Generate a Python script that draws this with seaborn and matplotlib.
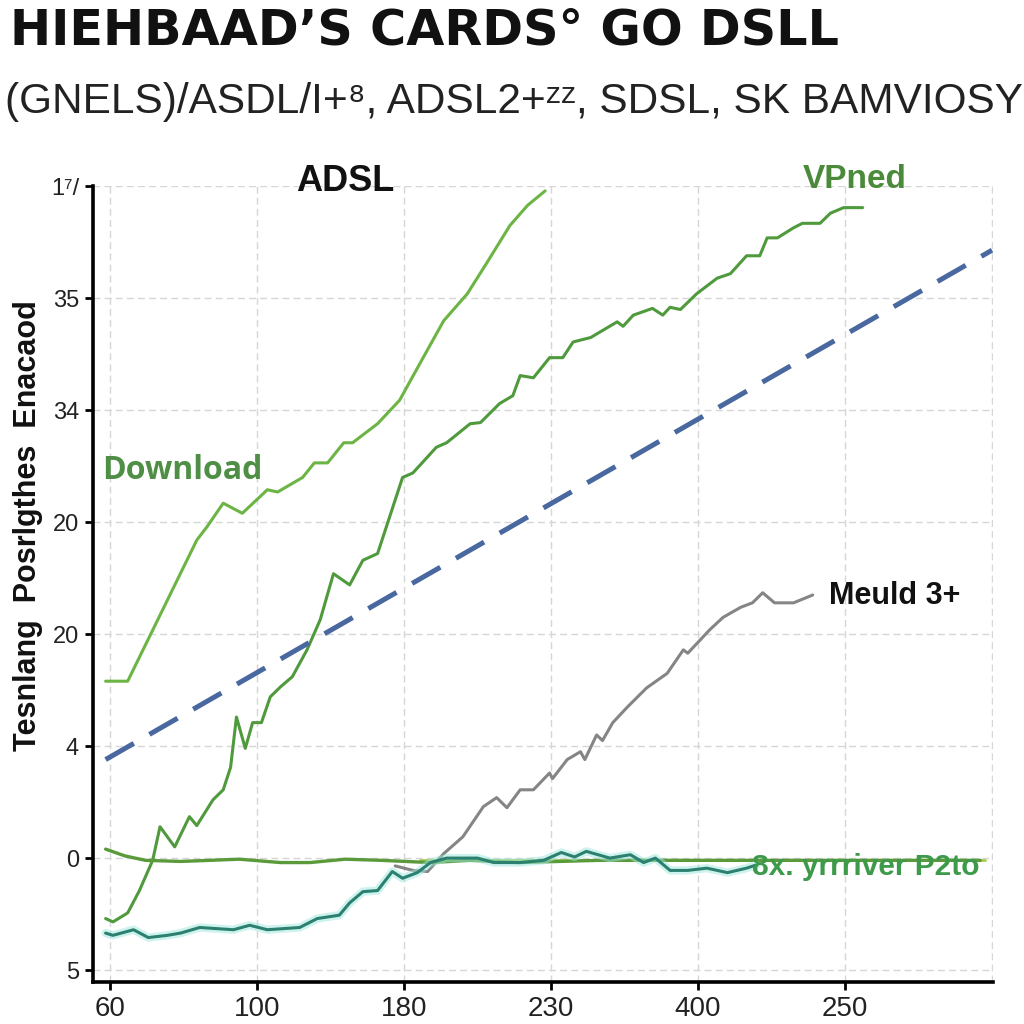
import matplotlib
matplotlib.use("Agg")
import matplotlib.pyplot as plt
import seaborn as sns

# tick labels as printed on the chart (positions are 0..n-1)
x_labels = ["60", "100", "180", "230", "400", "250"]
y_labels = ["5", "0", "4", "20", "20", "34", "35", "1⁷/"]

# upper green curve (ends near "ADSL")
adsl_x = [-0.03, 0.12, 0.59, 0.66, 0.77, 0.90, 1.07, 1.14, 1.31, 1.39, 1.48, 1.59,
          1.65, 1.82, 1.97, 2.13, 2.27, 2.43, 2.56, 2.72, 2.84, 2.96]
adsl_y = [2.58, 2.58, 3.84, 3.96, 4.17, 4.08, 4.29, 4.27, 4.40, 4.53, 4.53, 4.71,
          4.71, 4.88, 5.09, 5.47, 5.80, 6.04, 6.31, 6.65, 6.83, 6.96]

# middle green curve (ends near "VPned")
vp_x = [-0.03, 0.02, 0.12, 0.20, 0.29, 0.34, 0.44, 0.54, 0.59, 0.70, 0.77, 0.82,
        0.86, 0.92, 0.97, 1.03, 1.09, 1.16, 1.24, 1.34, 1.43, 1.52, 1.63, 1.72,
        1.82, 1.99, 2.06, 2.22, 2.29, 2.45, 2.52, 2.65, 2.74, 2.79, 2.88, 2.99,
        3.08, 3.15, 3.27, 3.45, 3.49, 3.56, 3.69, 3.76, 3.81, 3.88, 3.99, 4.13,
        4.22, 4.33, 4.42, 4.47, 4.54, 4.65, 4.71, 4.83, 4.90, 4.99, 5.12]
vp_y = [0.46, 0.43, 0.51, 0.71, 0.98, 1.28, 1.10, 1.37, 1.29, 1.52, 1.61, 1.81,
        2.26, 1.98, 2.21, 2.21, 2.44, 2.53, 2.62, 2.86, 3.13, 3.54, 3.44, 3.66,
        3.72, 4.40, 4.44, 4.67, 4.71, 4.88, 4.89, 5.06, 5.13, 5.31, 5.29, 5.47,
        5.47, 5.61, 5.65, 5.79, 5.75, 5.85, 5.91, 5.85, 5.92, 5.90, 6.04, 6.18,
        6.22, 6.38, 6.38, 6.54, 6.54, 6.63, 6.67, 6.67, 6.76, 6.81, 6.81]

# dashed blue trend
trend_x = [-0.03, 6.0]
trend_y = [1.88, 6.43]

# grey curve ("Meuld 3+")
grey_x = [1.94, 2.06, 2.16, 2.27, 2.40, 2.54, 2.63, 2.70, 2.79, 2.88, 2.99, 3.01,
          3.11, 3.20, 3.23, 3.31, 3.35, 3.42, 3.52, 3.65, 3.79, 3.90, 3.93, 4.08,
          4.17, 4.29, 4.37, 4.44, 4.52, 4.65, 4.78]
grey_y = [0.93, 0.89, 0.88, 1.04, 1.19, 1.46, 1.54, 1.45, 1.61, 1.61, 1.76, 1.71,
          1.88, 1.95, 1.88, 2.10, 2.05, 2.21, 2.35, 2.52, 2.65, 2.86, 2.83, 3.04,
          3.15, 3.24, 3.28, 3.37, 3.28, 3.28, 3.35]

# green line hugging zero
base_x = [-0.03, 0.10, 0.24, 0.48, 0.88, 1.16, 1.36, 1.60, 1.84, 2.18, 2.45, 2.78,
          3.33, 4.01, 4.69, 5.92]
base_y = [1.08, 1.02, 0.98, 0.97, 0.99, 0.96, 0.96, 0.99, 0.98, 0.96, 0.98, 0.96,
          0.98, 0.98, 0.98, 0.98]

# flat yellow-green reference
flat_x = [2.11, 5.95]
flat_y = [0.98, 0.98]

# teal curve
teal_x = [-0.03, 0.02, 0.16, 0.26, 0.39, 0.48, 0.61, 0.84, 0.95, 1.07, 1.29, 1.41,
          1.56, 1.63, 1.72, 1.82, 1.92, 1.99, 2.09, 2.18, 2.29, 2.50, 2.61, 2.79,
          2.95, 3.07, 3.16, 3.24, 3.40, 3.54, 3.63, 3.71, 3.81, 3.93, 4.06, 4.20,
          4.33, 4.40]
teal_y = [0.33, 0.31, 0.36, 0.29, 0.31, 0.33, 0.38, 0.36, 0.40, 0.36, 0.38, 0.46,
          0.49, 0.60, 0.70, 0.71, 0.88, 0.82, 0.87, 0.96, 1.00, 1.00, 0.96, 0.96,
          0.98, 1.05, 1.01, 1.06, 1.00, 1.03, 0.96, 1.00, 0.89, 0.89, 0.91, 0.87,
          0.91, 0.94]

sns.set_theme(style="white")
plt.rcParams['font.family'] = ['Liberation Sans', 'DejaVu Sans']

fig = plt.figure(figsize=(10.24, 10.24), dpi=100)
ax = fig.add_axes([0.0908, 0.041, 0.879, 0.777])

sns.lineplot(x=adsl_x, y=adsl_y, ax=ax, color="#6cb444", linewidth=2.2, sort=False)
sns.lineplot(x=vp_x, y=vp_y, ax=ax, color="#4f9a3c", linewidth=2.2, sort=False)
sns.lineplot(x=trend_x, y=trend_y, ax=ax, color="#4a68a0", linewidth=3.6,
             linestyle=(0, (6.5, 3.6)), sort=False)
sns.lineplot(x=grey_x, y=grey_y, ax=ax, color="#858585", linewidth=2.2, sort=False)
sns.lineplot(x=flat_x, y=flat_y, ax=ax, color="#a8cc50", linewidth=2.0, sort=False)
sns.lineplot(x=base_x, y=base_y, ax=ax, color="#5a9a3a", linewidth=2.4, sort=False)
sns.lineplot(x=teal_x, y=teal_y, ax=ax, color="#9fe8e0", linewidth=6, alpha=0.5, sort=False)
sns.lineplot(x=teal_x, y=teal_y, ax=ax, color="#2c8070", linewidth=2.2, sort=False)

ax.set_xlim(-0.116, 6.007)
ax.set_ylim(-0.107, 7.0)
ax.set_xticks(range(len(x_labels)))
ax.set_xticklabels(x_labels, fontsize=20)
ax.set_xticks([len(x_labels)], minor=True)
ax.set_yticks(range(len(y_labels)))
ax.set_yticklabels(y_labels, fontsize=17)
ax.tick_params(axis='both', which='major', length=6, width=2, color='black',
               labelcolor='#222222', direction='out', left=True, bottom=True, pad=4)
ax.tick_params(axis='x', which='minor', length=0)
ax.grid(True, which='both', color='#d6d6d6', linestyle=(0, (5, 3)), linewidth=1)

for side in ['top', 'right']:
    ax.spines[side].set_visible(False)
for side in ['left', 'bottom']:
    ax.spines[side].set_color('black')
    ax.spines[side].set_linewidth(2.6)

ax.set_xlabel('')
ax.set_ylabel('')

fig.text(0.010, 0.970, "HIEHBAAD’S CARDS° GO DSLL", fontsize=35.5, fontweight='bold',
         ha='left', va='center', color='#111111', family=['DejaVu Sans'])
fig.text(0.005, 0.900, "(GNELS)/ASDL/I+⁸, ADSL2+ᶻᶻ, SDSL, SK BAMVIOSY", fontsize=30.5,
         ha='left', va='center', color='#222222')
fig.text(0.027, 0.487, "Tesnlang  Posrlgthes  Enacaod", fontsize=22, fontweight='bold',
         rotation=90, ha='center', va='center', color='#111111')

fig.text(0.337, 0.823, "ADSL", fontsize=26, fontweight='bold', ha='center',
         va='center', color='#111111')
fig.text(0.835, 0.825, "VPned", fontsize=24, fontweight='bold', ha='center',
         va='center', color='#4a8a3a')
fig.text(0.100, 0.541, "Download", fontsize=23, fontweight='bold', ha='left',
         va='center', color='#4e8f45', family=['Open Sans', 'DejaVu Sans'])
fig.text(0.810, 0.418, "Meuld 3+", fontsize=22, fontweight='bold', ha='left',
         va='center', color='#111111')
fig.text(0.734, 0.153, "8x. yrrriver P2to", fontsize=21.5, fontweight='semibold',
         ha='left', va='center', color='#3d9a4a')

fig.savefig("out.png", dpi=100)
